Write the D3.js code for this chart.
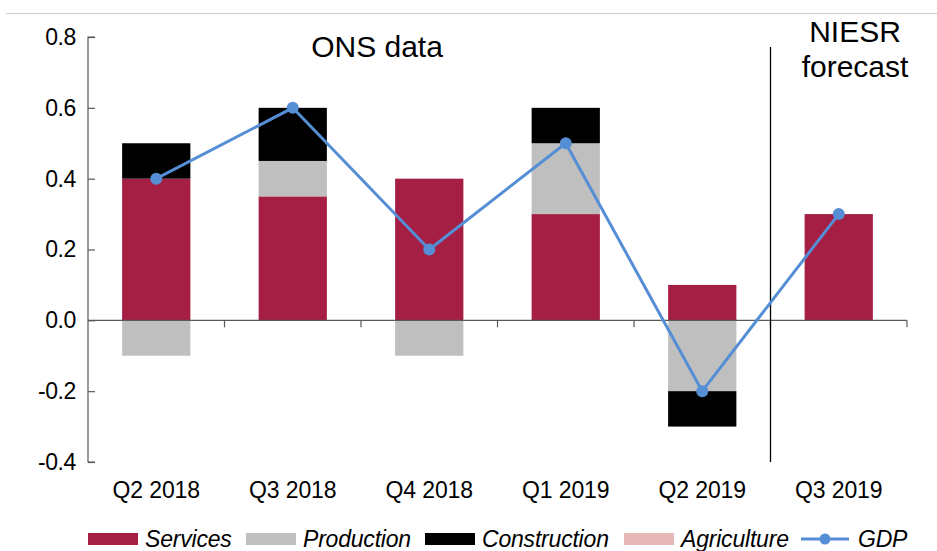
<!DOCTYPE html>
<html>
<head>
<meta charset="utf-8">
<script src="https://cdn.jsdelivr.net/npm/d3@7"></script>
<style>
  html, body { margin: 0; padding: 0; background: #fff; }
  svg { display: block; font-family: "Liberation Sans", Arial, sans-serif; }
</style>
</head>
<body>
<svg id="chart" width="937" height="551"></svg>
<script>
const categories = ["Q2 2018", "Q3 2018", "Q4 2018", "Q1 2019", "Q2 2019", "Q3 2019"];
const services     = [0.4, 0.35, 0.4, 0.3, 0.1, 0.3];
const production   = [-0.1, 0.1, -0.1, 0.2, -0.2, 0];
const construction = [0.1, 0.15, 0, 0.1, -0.1, 0];
const agriculture  = [0, 0, 0, 0, 0, 0];
const gdp          = [0.4, 0.6, 0.2, 0.5, -0.2, 0.3];
const yTicks = [-0.4, -0.2, 0.0, 0.2, 0.4, 0.6, 0.8];
const seriesNames = ["Services", "Production", "Construction", "Agriculture", "GDP"];
const colors = { Services: "#A51E43", Production: "#BFBFBF", Construction: "#000000", Agriculture: "#E6B9B8", GDP: "#558ED5" };

const svg = d3.select("#chart");
const mLeft = 88, mRight = 907, mTop = 37, mBottom = 462;

const x = d3.scaleBand().domain(categories).range([mLeft, mRight]).paddingInner(0).paddingOuter(0);
const y = d3.scaleLinear().domain([-0.4, 0.8]).range([mBottom, mTop]);

// top grey rule
svg.append("line").attr("x1", 6).attr("x2", 937).attr("y1", 13.5).attr("y2", 13.5)
  .attr("stroke", "#cccccc").attr("stroke-width", 1);

// stacked bars
const stackSeries = [
  { name: "Services", vals: services },
  { name: "Production", vals: production },
  { name: "Construction", vals: construction },
  { name: "Agriculture", vals: agriculture }
];
const barW = x.bandwidth() * 0.5;
categories.forEach((c, i) => {
  let pos = 0, neg = 0;
  stackSeries.forEach(s => {
    const v = s.vals[i];
    if (v === 0) return;
    let y0, y1;
    if (v > 0) { y0 = pos; y1 = pos + v; pos = y1; }
    else { y0 = neg; y1 = neg + v; neg = y1; }
    svg.append("rect")
      .attr("x", x(c) + (x.bandwidth() - barW) / 2)
      .attr("width", barW)
      .attr("y", y(Math.max(y0, y1)))
      .attr("height", Math.abs(y(y0) - y(y1)))
      .attr("fill", colors[s.name]);
  });
});

// y axis
const yAxis = d3.axisLeft(y).tickValues(yTicks).tickFormat(d => d3.format(".1f")(d).replace("−", "-")).tickSize(-7).tickPadding(20);
const yg = svg.append("g").attr("transform", `translate(${mLeft},0)`).call(yAxis);
yg.select(".domain").attr("stroke", "#595959").attr("stroke-width", 1.2).attr("d", `M7,${mTop}H0V${mBottom}H7`);
yg.selectAll(".tick line").attr("stroke", "#595959").attr("stroke-width", 1.2);
yg.selectAll(".tick text").attr("font-size", 23).attr("fill", "#000").attr("letter-spacing", -0.4)
  .attr("font-family", "Liberation Sans, Arial, sans-serif").attr("dx", 8);

// x axis at 0 with category boundary ticks
const xg = svg.append("g").attr("transform", `translate(0,${y(0)})`);
xg.append("line").attr("x1", mLeft).attr("x2", mRight).attr("stroke", "#595959").attr("stroke-width", 1.2);
categories.map(c => x(c) + x.bandwidth()).forEach(b => {
  xg.append("line").attr("x1", b).attr("x2", b).attr("y1", 0).attr("y2", 7).attr("stroke", "#595959").attr("stroke-width", 1.2);
});
// category labels at bottom
svg.append("g").selectAll("text").data(categories).join("text")
  .attr("x", d => x(d) + x.bandwidth() / 2)
  .attr("y", 498)
  .attr("text-anchor", "middle")
  .attr("font-size", 23)
  .attr("letter-spacing", -0.1)
  .attr("fill", "#000")
  .text(d => d);

// forecast divider
const divX = x(categories[5]);
svg.append("line").attr("x1", divX).attr("x2", divX).attr("y1", 47).attr("y2", mBottom)
  .attr("stroke", "#000").attr("stroke-width", 1.3);

// annotations
svg.append("text").attr("x", 377).attr("y", 57).attr("text-anchor", "middle")
  .attr("font-size", 30).text("ONS data");
svg.append("text").attr("x", 855).attr("y", 42).attr("text-anchor", "middle")
  .attr("font-size", 30).text("NIESR");
svg.append("text").attr("x", 855).attr("y", 77).attr("text-anchor", "middle")
  .attr("font-size", 30).text("forecast");

// GDP line
const line = d3.line().x((d, i) => x(categories[i]) + x.bandwidth() / 2).y(d => y(d));
svg.append("path").datum(gdp).attr("d", line).attr("fill", "none")
  .attr("stroke", colors.GDP).attr("stroke-width", 3).attr("stroke-linejoin", "round");
svg.append("g").selectAll("circle").data(gdp).join("circle")
  .attr("cx", (d, i) => x(categories[i]) + x.bandwidth() / 2)
  .attr("cy", d => y(d)).attr("r", 6).attr("fill", colors.GDP);

// legend
const legendX = [88, 246, 425, 624, 801];
const lg = svg.append("g");
seriesNames.forEach((n, i) => {
  const g = lg.append("g").attr("transform", `translate(${legendX[i]},0)`);
  if (n === "GDP") {
    g.append("line").attr("x1", 0).attr("x2", 48).attr("y1", 539).attr("y2", 539)
      .attr("stroke", colors.GDP).attr("stroke-width", 3);
    g.append("circle").attr("cx", 24).attr("cy", 539).attr("r", 5.5).attr("fill", colors.GDP);
  } else {
    g.append("rect").attr("x", 0).attr("y", 533).attr("width", 50).attr("height", 12).attr("fill", colors[n]);
  }
  g.append("text").attr("x", 57).attr("y", 547).attr("font-size", 23).attr("font-style", "italic")
    .attr("letter-spacing", -0.2).attr("fill", "#000").text(n);
});
</script>
</body>
</html>
